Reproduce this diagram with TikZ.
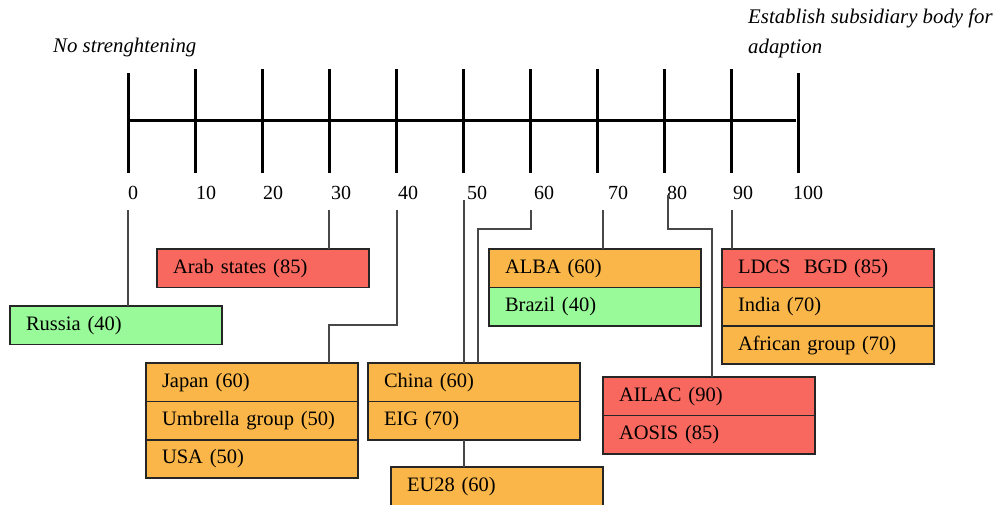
\documentclass[tikz,border=0pt]{standalone}
\usepackage{fontspec}
\setmainfont{Liberation Serif}
\definecolor{bor}{RGB}{250,182,72}
\definecolor{bred}{RGB}{248,104,94}
\definecolor{bgreen}{RGB}{152,250,152}
\begin{document}
\begin{tikzpicture}[x=1pt,y=-1pt,
  box/.style={draw=black!85, line width=1.6pt, minimum width=212pt, minimum height=38.4pt,
    inner xsep=16pt, inner ysep=0pt, outer sep=0pt, text width=180pt, align=left, anchor=north west,
    font=\fontsize{20.5}{24}\selectfont},
  ob/.style={box, fill=bor},
  rb/.style={box, fill=bred},
  gb/.style={box, fill=bgreen},
  conn/.style={draw=black!72, line width=1.3pt},
  axis/.style={draw=black, line width=3pt},
  lab/.style={anchor=west, inner sep=0pt, font=\fontsize{20}{24}\selectfont},
  note/.style={inner sep=0pt, align=left, font=\fontsize{20.8}{30}\selectfont\itshape}]
\useasboundingbox (0,0) rectangle (996,504);

% title notes
\node[note, anchor=west] (lo) at (53,47) {No strenghtening};
\node[note, anchor=north west] (hi) at (748,9) {Establish subsidiary body for\\adaption};

% axis
\draw[axis] (128,120) -- (796,120);
\foreach \i/\yt in {0/73,1/69,2/69,3/69,4/69,5/69,6/69,7/69,8/69,9/69,10/73}{
  \draw[axis] (128+67*\i,\yt) -- (128+67*\i,173);
}

% tick labels
\node[lab] (l0) at (128,193) {0};
\node[lab] (l10) at (196,193) {10};
\node[lab] (l20) at (263,193) {20};
\node[lab] (l30) at (331,193) {30};
\node[lab] (l40) at (398,193) {40};
\node[lab] (l50) at (467,193) {50};
\node[lab] (l60) at (534,193) {60};
\node[lab] (l70) at (608,193) {70};
\node[lab] (l80) at (667,193) {80};
\node[lab] (l90) at (733,193) {90};
\node[lab] (l100) at (793,193) {100};

% boxes
\node[gb] (russia) at (10,306) {Russia (40)};
\node[rb] (arab) at (157,249) {Arab states (85)};
\node[ob] (japan) at (146,363) {Japan (60)};
\node[ob] (umb) at (japan.south west) {Umbrella group (50)};
\node[ob] (usa) at (umb.south west) {USA (50)};
\node[ob] (china) at (368,363) {China (60)};
\node[ob] (eig) at (china.south west) {EIG (70)};
\node[ob] (eu) at (391,467) {EU28 (60)};
\node[ob] (alba) at (489,249) {ALBA (60)};
\node[gb] (brazil) at (alba.south west) {Brazil (40)};
\node[rb] (ldcs) at (722,249) {LDCS\ \ BGD (85)};
\node[ob] (india) at (ldcs.south west) {India (70)};
\node[ob] (afr) at (india.south west) {African group (70)};
\node[rb] (ailac) at (603,377) {AILAC (90)};
\node[rb] (aosis) at (ailac.south west) {AOSIS (85)};

% connector anchors
\coordinate (s0) at (128,210);
\coordinate (s30) at (329,210);
\coordinate (s40) at (397,210);
\coordinate (b40) at (329,325);
\coordinate (s50) at (464,200);
\coordinate (s60) at (531,210);
\coordinate (b60) at (478,229);
\coordinate (s70) at (603,210);
\coordinate (s80) at (668,195);
\coordinate (b80) at (712,229);
\coordinate (s90) at (732,210);

% connectors
\draw[conn] (s0) -- (russia.north -| s0);
\draw[conn] (s30) -- (arab.north -| s30);
\draw[conn] (s40) |- (b40) -- (japan.north -| b40);
\draw[conn] (s50) -- (china.north -| s50);
\draw[conn] (s60) |- (b60) -- (china.north -| b60);
\draw[conn] (eig.south -| s50) -- (eu.north -| s50);
\draw[conn] (s70) -- (alba.north -| s70);
\draw[conn] (s80) |- (b80) -- (ailac.north -| b80);
\draw[conn] (s90) -- (ldcs.north -| s90);
\end{tikzpicture}
\end{document}
